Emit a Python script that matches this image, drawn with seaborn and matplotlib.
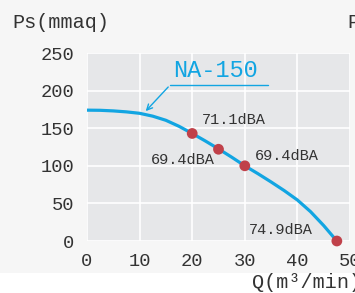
import numpy as np
import pandas as pd
import seaborn as sns
import matplotlib.pyplot as plt
from matplotlib.patches import Rectangle

# Curve (Q in m3/min, Ps in mmaq)
q_curve = [0, 2.5, 5, 7.5, 10, 12.5, 15, 17.5, 20, 22.5, 25, 27.5, 30,
           32.5, 35, 37.5, 40, 42.5, 45, 47.5]
ps_curve = [174, 173.8, 173, 171.7, 169.8, 166, 160.5, 152.5, 143, 133, 122.5, 111.5, 100,
            89.5, 78.5, 67, 54.5, 39, 20.5, 0]

# Measured points with noise level
q_points = [20, 25, 30, 47.5]
ps_points = [143, 122, 100, 0]
noise_labels = ['71.1dBA', '69.4dBA', '69.4dBA', '74.9dBA']

x_ticks = [0, 10, 20, 30, 40, 50]
y_ticks = [0, 50, 100, 150, 200, 250]

sns.set_style('darkgrid', {
    'axes.facecolor': '#e6e7e9',
    'grid.color': 'white',
    'figure.facecolor': '#f6f6f6',
})
plt.rcParams['font.family'] = ['Liberation Mono', 'DejaVu Sans']

cyan = '#12a5e2'
red = '#c0414a'
txt = '#333333'

fig = plt.figure(figsize=(3.55, 2.93), dpi=100)
fig.patches.append(Rectangle((0, 0), 1, 20 / 293, transform=fig.transFigure,
                             facecolor='white', edgecolor='none', zorder=-1))
ax = fig.add_axes([87 / 355, 52 / 293, 263 / 355, 188 / 293])

df_curve = pd.DataFrame({'Q': q_curve, 'Ps': ps_curve})
df_pts = pd.DataFrame({'Q': q_points, 'Ps': ps_points, 'label': noise_labels})

sns.lineplot(data=df_curve, x='Q', y='Ps', ax=ax, color=cyan, linewidth=2.3, zorder=3)
sns.scatterplot(data=df_pts, x='Q', y='Ps', ax=ax, color=red, s=60, edgecolor='none',
                zorder=4, clip_on=False)

ax.set_xlim(0, 50)
ax.set_ylim(0, 250)
ax.set_xticks(x_ticks)
ax.set_yticks(y_ticks)
ax.grid(True, color='white', linewidth=1.2)
for s in ax.spines.values():
    s.set_visible(False)
ax.tick_params(length=0, labelsize=13.5, colors=txt)
ax.tick_params(axis='x', pad=9)
ax.tick_params(axis='y', pad=9)
ax.set_xlabel('')
ax.set_ylabel('')

# Noise labels
label_pos = [(21.9, 161, 'left'), (24.3, 108, 'right'), (31.9, 113, 'left'), (43.0, 14, 'right')]
for (x, y, ha), lab in zip(label_pos, noise_labels):
    ax.text(x, y, lab, ha=ha, va='center', fontsize=11, color=txt)

# Model name with leader
ax.text(16.3, 207.5 + 4, 'NA-150', ha='left', va='bottom', fontsize=17, color=cyan)
ax.plot([15.8, 34.4], [207.5, 207.5], color=cyan, linewidth=1)
ax.annotate('', xy=(10.8, 170), xytext=(15.8, 207.5),
            arrowprops=dict(arrowstyle='->', color=cyan, lw=1))

# Axis titles
fig.text(12 / 355, 1 - 22 / 293, 'Ps(mmaq)', ha='left', va='center', fontsize=14.5, color=txt)
fig.text(347 / 355, 1 - 22 / 293, 'Ps(mmaq)', ha='left', va='center', fontsize=14.5, color=txt)
fig.text(252 / 355, 1 - 282 / 293, 'Q(m³/min)', ha='left', va='center', fontsize=14.5, color=txt)

fig.savefig('out.png', dpi=100, facecolor=fig.get_facecolor())
